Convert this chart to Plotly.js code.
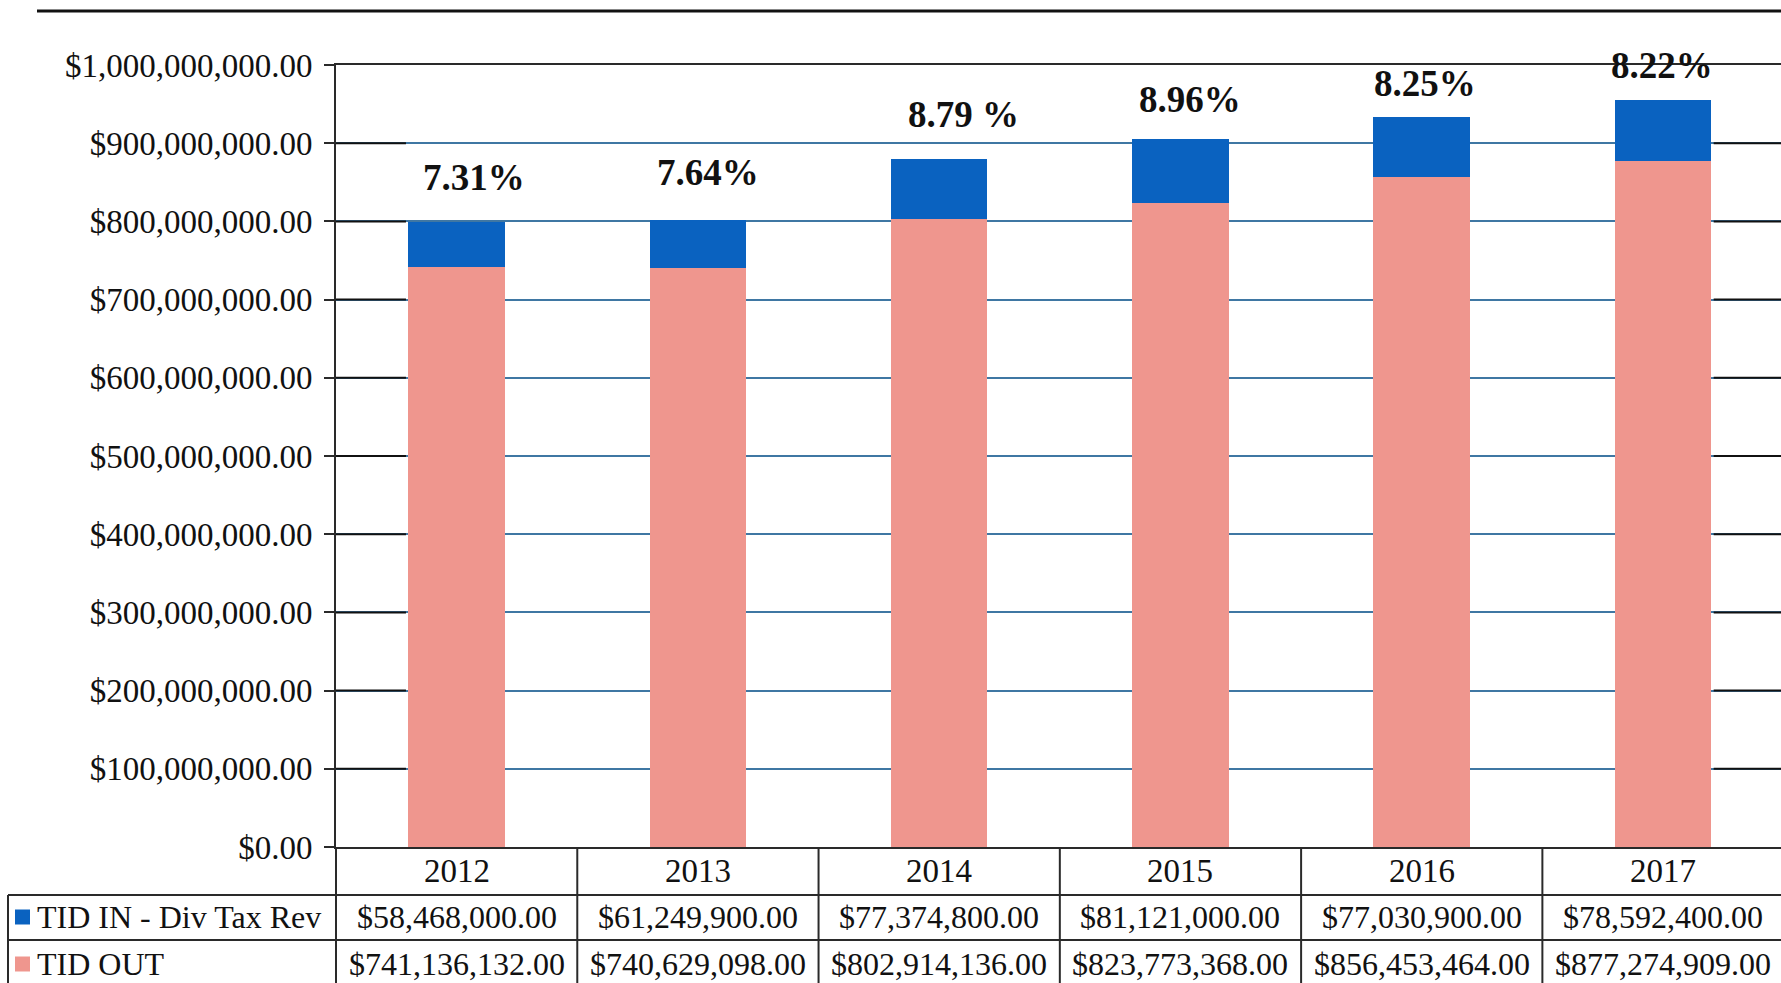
<!DOCTYPE html>
<html><head><meta charset="utf-8">
<script src="https://cdn.plot.ly/plotly-3.0.1.min.js"></script>
<style>html,body{margin:0;padding:0;background:#fff;overflow:hidden}#chart{width:1781px;height:983px}</style>
</head><body><div id="chart"></div>
<script>
// ---- data ----
const years = ['2012', '2013', '2014', '2015', '2016', '2017'];
const tidIn = [58468000, 61249900, 77374800, 81121000, 77030900, 78592400];
const tidOut = [741136132, 740629098, 802914136, 823773368, 856453464, 877274909];
const pctLabels = ['7.31%', '7.64%', '8.79 %', '8.96%', '8.25%', '8.22%'];
const seriesNames = ['TID IN - Div Tax Rev', 'TID OUT'];
const yTicks = [0, 100000000, 200000000, 300000000, 400000000, 500000000, 600000000, 700000000, 800000000, 900000000, 1000000000];

// ---- layout constants (positions / styles) ----
const W = 1781, H = 983;
const M = {l: 336, r: 0, t: 65, b: 136};
const XMIN = -0.5, XMAX = 5.489;
const FONT = '"Liberation Serif", "Times New Roman", serif';
const FS = 33, FS_TABLE = 32;
const BLUE = '#0a62c0', PINK = '#ef968e', GRID = '#3f77a3', LINE = '#2a2a2a', TXT = '#111';
const pctShiftX = [17, 10, 24, 10, 3, -1];
const pctShiftY = [44, 47, 44, 40, 34, 34];

const plotW = W - M.l - M.r, plotH = H - M.t - M.b;
const xp = px => (px - M.l) / plotW;          // pixel x -> paper
const yp = py => (H - M.b - py) / plotH;      // pixel y -> paper
const xc = c => (c - XMIN) / (XMAX - XMIN);   // category coord -> paper

const fmt = v => '$' + v.toLocaleString('en-US', {minimumFractionDigits: 2, maximumFractionDigits: 2});

const traces = [
  {type: 'bar', name: seriesNames[1], x: years, y: tidOut, marker: {color: PINK, line: {width: 0}}, hoverinfo: 'none'},
  {type: 'bar', name: seriesNames[0], x: years, y: tidIn, marker: {color: BLUE, line: {width: 0}}, hoverinfo: 'none'}
];

const shapes = [];
const annotations = [];

// top rule
shapes.push({type: 'line', xref: 'paper', yref: 'paper', x0: xp(37), x1: 1.01, y0: yp(11), y1: yp(11), line: {color: TXT, width: 3}});

// black gridline segments near the axis and right edge
yTicks.forEach(v => {
  if (v === 0 || v === 1000000000) return;
  shapes.push({type: 'line', xref: 'x', yref: 'y', x0: XMIN, x1: -0.21, y0: v, y1: v, line: {color: TXT, width: 2}, layer: 'above'});
  shapes.push({type: 'line', xref: 'x', yref: 'y', x0: years.length - 1 + 0.21, x1: XMAX, y0: v, y1: v, line: {color: TXT, width: 2}, layer: 'above'});
});

// table grid
const rowTop1 = 895, rowTop2 = 940;
for (let i = 0; i <= years.length; i++) {
  const x = xc(i - 0.5);
  if (x > 1) continue;
  shapes.push({type: 'line', xref: 'paper', yref: 'paper', x0: x, x1: x, y0: 0, y1: yp(H + 5), line: {color: LINE, width: 2}});
}
[rowTop1, rowTop2].forEach(py => {
  shapes.push({type: 'line', xref: 'paper', yref: 'paper', x0: xp(8), x1: 1.01, y0: yp(py), y1: yp(py), line: {color: LINE, width: 2}});
});
shapes.push({type: 'line', xref: 'paper', yref: 'paper', x0: xp(8), x1: xp(8), y0: yp(rowTop1), y1: yp(H + 5), line: {color: LINE, width: 2}});

// legend keys in table
const rowCenters = [917, 964];
const keyColors = [BLUE, PINK];
rowCenters.forEach((cy, r) => {
  shapes.push({type: 'rect', xref: 'paper', yref: 'paper', x0: xp(15), x1: xp(30), y0: yp(cy - 7.5), y1: yp(cy + 7.5), fillcolor: keyColors[r], line: {width: 0}});
  annotations.push({xref: 'paper', yref: 'paper', x: xp(35), y: yp(cy), xanchor: 'left', yanchor: 'middle', text: seriesNames[r], showarrow: false, font: {family: FONT, size: FS_TABLE, color: TXT}});
});

// table values
const rows = [tidIn, tidOut];
rows.forEach((arr, r) => {
  arr.forEach((v, i) => {
    annotations.push({xref: 'x', yref: 'paper', x: i, y: yp(rowCenters[r]), xanchor: 'center', yanchor: 'middle', text: fmt(v), showarrow: false, font: {family: FONT, size: FS_TABLE, color: TXT}});
  });
});

// year labels
years.forEach((yr, i) => {
  annotations.push({xref: 'x', yref: 'paper', x: i, y: yp(871), xanchor: 'center', yanchor: 'middle', text: yr, showarrow: false, font: {family: FONT, size: FS, color: TXT}});
});

// percentage labels above bars
years.forEach((yr, i) => {
  annotations.push({xref: 'x', yref: 'y', x: i, y: tidIn[i] + tidOut[i], xanchor: 'center', yanchor: 'middle', xshift: pctShiftX[i], yshift: pctShiftY[i], text: '<b>' + pctLabels[i] + '</b>', showarrow: false, font: {family: FONT, size: 37, color: TXT}});
});

const layout = {
  width: W, height: H,
  margin: {l: M.l, r: M.r, t: M.t, b: M.b, pad: 0},
  paper_bgcolor: '#fff', plot_bgcolor: '#fff',
  barmode: 'stack', bargap: 0.6,
  showlegend: false,
  font: {family: FONT, size: FS, color: TXT},
  xaxis: {type: 'category', range: [XMIN, XMAX], showgrid: false, showline: true, mirror: true, linecolor: LINE, linewidth: 2, ticks: '', showticklabels: false, zeroline: false, fixedrange: true},
  yaxis: {range: [0, 1000000000], tickvals: yTicks, tickformat: '$,.2f', ticks: 'outside', ticklen: 10, tickwidth: 2, tickcolor: LINE, showline: true, linecolor: LINE, linewidth: 2, showgrid: true, gridcolor: GRID, gridwidth: 2, zeroline: false, tickfont: {family: FONT, size: FS, color: TXT}, ticklabelstandoff: 5, fixedrange: true},
  shapes: shapes,
  annotations: annotations
};

Plotly.newPlot('chart', traces, layout, {displayModeBar: false, staticPlot: true});
</script>
</body></html>
